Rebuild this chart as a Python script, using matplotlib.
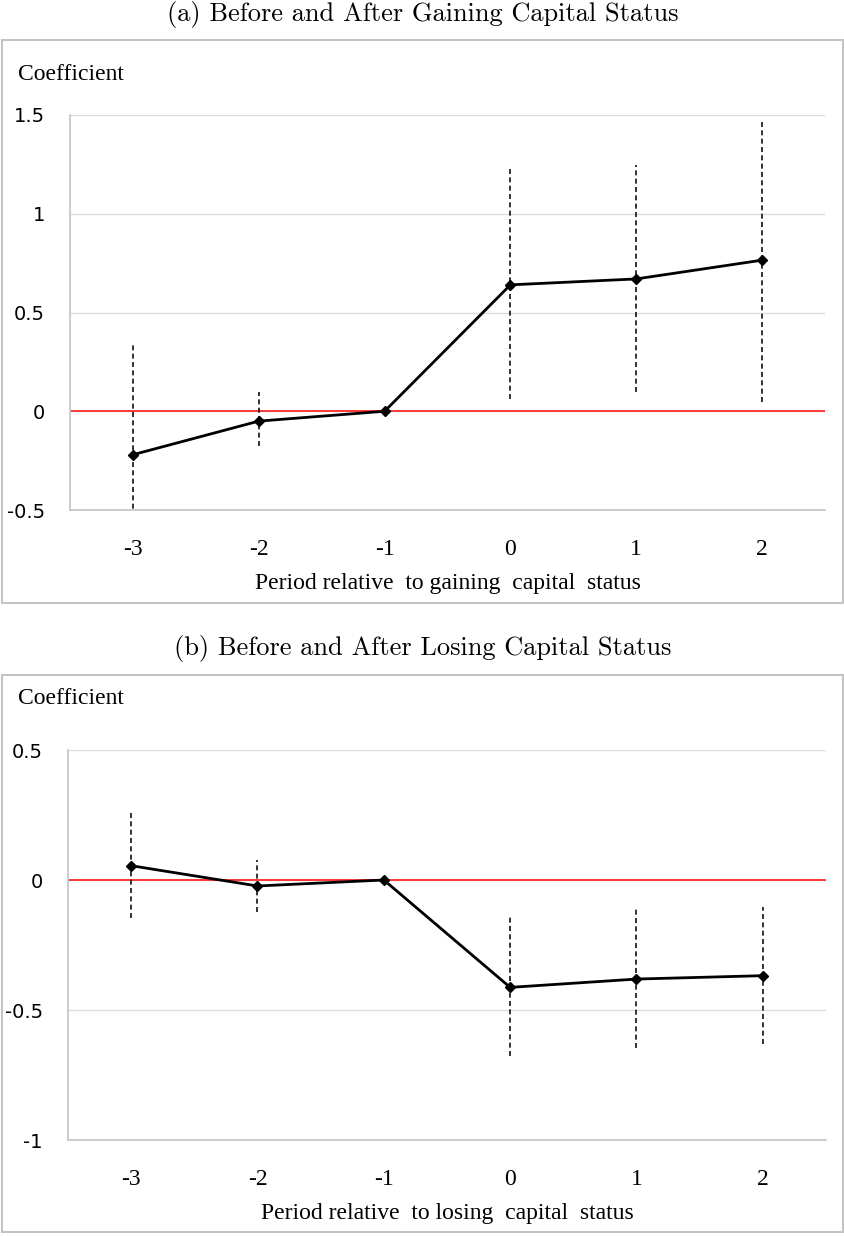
import matplotlib.pyplot as plt
from matplotlib.patches import Rectangle

# event-study periods relative to the change in capital status
periods = [-3, -2, -1, 0, 1, 2]
period_labels = ["-3", "-2", "-1", "0", "1", "2"]

# (a) gaining capital status: point estimates and 95% bounds
gain_coef = [-0.22, -0.05, 0.0, 0.64, 0.67, 0.765]
gain_low = [-0.79, -0.175, 0.0, 0.06, 0.10, 0.045]
gain_high = [0.35, 0.095, 0.0, 1.235, 1.245, 1.48]

# (b) losing capital status
lose_coef = [0.055, -0.023, 0.0, -0.413, -0.381, -0.368]
lose_low = [-0.147, -0.124, 0.0, -0.677, -0.647, -0.632]
lose_high = [0.267, 0.077, 0.0, -0.144, -0.103, -0.103]

gain_yticks = [-0.5, 0, 0.5, 1, 1.5]
gain_yticklabels = ["-0.5", "0", "0.5", "1", "1.5"]
lose_yticks = [-1, -0.5, 0, 0.5]
lose_yticklabels = ["-1", "-0.5", "0", "0.5"]

W, H = 845, 1236
fig = plt.figure(figsize=(W / 100, H / 100), dpi=100)

SERIF = "Liberation Serif"
GRID = "#dcdcdc"
FRAME = "#c4c4c4"


def px_box(left, top, right, bottom):
    # pixel box -> figure fraction rect
    return [left / W, 1 - bottom / H, (right - left) / W, (bottom - top) / H]


def draw_panel(ax, coef, low, high, yticks, yticklabels, xlabel):
    ax.set_xlim(-3.5, 2.5)
    ax.set_ylim(yticks[0], yticks[-1])
    ax.set_yticks(yticks)
    ax.set_yticklabels(yticklabels, fontsize=14, family="DejaVu Sans")
    ax.set_xticks(periods)
    ax.set_xticklabels(period_labels, fontsize=17, family=SERIF)
    ax.tick_params(axis="y", length=0, pad=18)
    ax.tick_params(axis="x", length=0, pad=21)
    ax.grid(axis="y", color=GRID, lw=1.0)
    ax.set_axisbelow(True)
    for side in ("top", "right"):
        ax.spines[side].set_visible(False)
    for side in ("left", "bottom"):
        ax.spines[side].set_color(FRAME)
        ax.spines[side].set_linewidth(1.2)

    ax.axhline(0, color="#ff2a2a", lw=1.3, zorder=2)

    # dashed confidence intervals (skip the reference period)
    xs = [p for p, lo, hi in zip(periods, low, high) if hi > lo]
    los = [lo for lo, hi in zip(low, high) if hi > lo]
    his = [hi for lo, hi in zip(low, high) if hi > lo]
    ax.vlines(xs, los, his, colors="#111111", lw=1.2,
              linestyles=(0, (3.0, 2.0)), zorder=3)

    ax.plot(periods, coef, color="black", lw=2.0, marker="D",
            markersize=5.5, zorder=4)

    ax.set_xlabel(xlabel, fontsize=17, family=SERIF, labelpad=9)


# panel frames
for (l, t, r, b) in [(2, 40, 843, 603), (2, 675, 843, 1232)]:
    x0, y0, w, h = px_box(l, t, r, b)
    fig.add_artist(Rectangle((x0, y0), w, h, transform=fig.transFigure,
                             fill=False, edgecolor=FRAME, lw=1.5))

fig.text(0.5, 1 - 14 / H, "(a) Before and After Gaining Capital Status",
         ha="center", va="center", fontsize=19, family="cmr10")
fig.text(0.5, 1 - 648 / H, "(b) Before and After Losing Capital Status",
         ha="center", va="center", fontsize=19, family="cmr10")

fig.text(18 / W, 1 - 75 / H, "Coefficient", ha="left", va="center",
         fontsize=17, family=SERIF)
fig.text(18 / W, 1 - 699 / H, "Coefficient", ha="left", va="center",
         fontsize=17, family=SERIF)

ax_a = fig.add_axes(px_box(70, 115, 825, 510))
draw_panel(ax_a, gain_coef, gain_low, gain_high, gain_yticks,
           gain_yticklabels, "Period relative  to gaining  capital  status")

ax_b = fig.add_axes(px_box(68, 750, 826, 1140))
draw_panel(ax_b, lose_coef, lose_low, lose_high, lose_yticks,
           lose_yticklabels, "Period relative  to losing  capital  status")

fig.savefig("out.png", dpi=100)
